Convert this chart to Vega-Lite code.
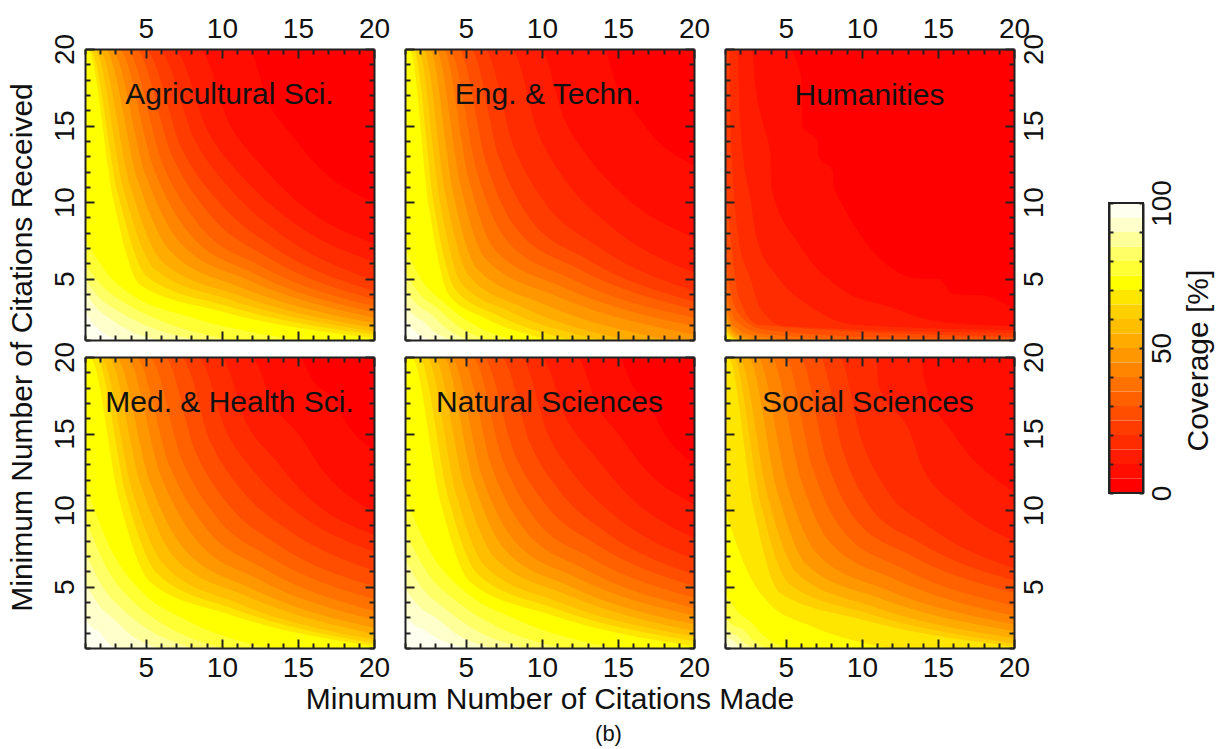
{"$schema":"https://vega.github.io/schema/vega-lite/v6.json","padding":{"left":7,"top":15,"right":5,"bottom":5},"background":"white",
"config":{"view":{"stroke":null},"range":{"ordinal":["#ff0000","#ff0e00","#ff1c00","#ff2c00","#ff3c00","#ff4e00","#ff6000","#ff7200","#ff8500","#ff9800","#ffab00","#ffbe00","#ffd000","#ffe600","#ffff00","#ffff33","#ffff66","#ffff99","#ffffcc","#fffff0"]},"axis":{"grid":false,"domainColor":"#222222","domainWidth":2,"tickColor":"#222222","tickWidth":2,"labelColor":"#111111","titleColor":"#111111","labelFont":"Liberation Sans","titleFont":"Liberation Sans","labelFontSize":28,"titleFontSize":30,"titleFontWeight":"normal","labelOverlap":false,"labelFlush":false,"labelPadding":15},"title":{"font":"Liberation Sans"}},
"datasets":{
"A":[{"l":0,"x":1,"y":20},{"l":0,"x":20,"y":20},
{"l":5,"x":1,"y":20},{"l":5,"x":11.7,"y":20},{"l":5,"x":13.1,"y":16.4},{"l":5,"x":14.5,"y":14.5},{"l":5,"x":16.4,"y":12.25},{"l":5,"x":20,"y":10},
{"l":10,"x":1,"y":20},{"l":10,"x":8.5,"y":20},{"l":10,"x":10.5,"y":15.1},{"l":10,"x":12.5,"y":12.5},{"l":10,"x":15.1,"y":9.9},{"l":10,"x":20,"y":7.3},
{"l":15,"x":1,"y":20},{"l":15,"x":6.8,"y":20},{"l":15,"x":9.15,"y":14.5},{"l":15,"x":11.5,"y":11.5},{"l":15,"x":14.5,"y":8.8},{"l":15,"x":20,"y":6.1},
{"l":20,"x":1,"y":20},{"l":20,"x":5.8,"y":20},{"l":20,"x":8.25,"y":14},{"l":20,"x":10.7,"y":10.7},{"l":20,"x":14,"y":7.8},{"l":20,"x":20,"y":4.9},
{"l":25,"x":1,"y":20},{"l":25,"x":4.9,"y":20},{"l":25,"x":7.4,"y":13.4},{"l":25,"x":9.9,"y":9.9},{"l":25,"x":13.4,"y":7.05},{"l":25,"x":20,"y":4.2},
{"l":30,"x":1,"y":20},{"l":30,"x":4.3,"y":20},{"l":30,"x":6.75,"y":13},{"l":30,"x":9.2,"y":9.2},{"l":30,"x":13,"y":6.4},{"l":30,"x":20,"y":3.65},
{"l":35,"x":1,"y":20},{"l":35,"x":3.7,"y":20},{"l":35,"x":6.1,"y":12.5},{"l":35,"x":8.5,"y":8.5},{"l":35,"x":12.5,"y":5.85},{"l":35,"x":20,"y":3.2},
{"l":40,"x":1,"y":20},{"l":40,"x":3.2,"y":20},{"l":40,"x":5.55,"y":12.1},{"l":40,"x":7.9,"y":7.9},{"l":40,"x":12.1,"y":5.35},{"l":40,"x":20,"y":2.8},
{"l":45,"x":1,"y":20},{"l":45,"x":2.7,"y":20},{"l":45,"x":5,"y":11.75},{"l":45,"x":7.3,"y":7.3},{"l":45,"x":11.75,"y":4.9},{"l":45,"x":20,"y":2.45},
{"l":50,"x":1,"y":20},{"l":50,"x":2.3,"y":20},{"l":50,"x":4.5,"y":11.35},{"l":50,"x":6.7,"y":6.7},{"l":50,"x":11.35,"y":4.4},{"l":50,"x":20,"y":2.1},
{"l":55,"x":1,"y":20},{"l":55,"x":1.9,"y":20},{"l":55,"x":4,"y":11},{"l":55,"x":6.1,"y":6.1},{"l":55,"x":11,"y":3.95},{"l":55,"x":20,"y":1.8},
{"l":60,"x":1,"y":20},{"l":60,"x":1.6,"y":20},{"l":60,"x":3.6,"y":10.6},{"l":60,"x":5.6,"y":5.6},{"l":60,"x":10.6,"y":3.6},{"l":60,"x":20,"y":1.55},
{"l":65,"x":1,"y":20},{"l":65,"x":1.3,"y":20},{"l":65,"x":3.2,"y":10.4},{"l":65,"x":5.1,"y":5.1},{"l":65,"x":10.4,"y":3.2},{"l":65,"x":20,"y":1.35},
{"l":70,"x":1,"y":20},{"l":70,"x":1.15,"y":20},{"l":70,"x":2.9,"y":10},{"l":70,"x":4.6,"y":4.6},{"l":70,"x":10,"y":2.85},{"l":70,"x":20,"y":1.1},
{"l":75,"x":1,"y":7.6},{"l":75,"x":2.5,"y":5.3},{"l":75,"x":4,"y":4},{"l":75,"x":7.9,"y":2.5},{"l":75,"x":15,"y":1},
{"l":80,"x":1,"y":6},{"l":80,"x":2.25,"y":4.4},{"l":80,"x":3.5,"y":3.5},{"l":80,"x":6,"y":2.25},{"l":80,"x":10.5,"y":1},
{"l":85,"x":1,"y":5},{"l":85,"x":2,"y":3.7},{"l":85,"x":3,"y":3},{"l":85,"x":4.9,"y":2},{"l":85,"x":8.4,"y":1},
{"l":90,"x":1,"y":4.2},{"l":90,"x":1.75,"y":3.1},{"l":90,"x":2.5,"y":2.5},{"l":90,"x":3.65,"y":1.75},{"l":90,"x":5.8,"y":1},
{"l":95,"x":1,"y":3},{"l":95,"x":1.4,"y":2.2},{"l":95,"x":1.8,"y":1.8},{"l":95,"x":2.3,"y":1.4},{"l":95,"x":3.3,"y":1}],
"B":[{"l":0,"x":1,"y":20},{"l":0,"x":20,"y":20},
{"l":5,"x":1,"y":20},{"l":5,"x":14,"y":20},{"l":5,"x":15,"y":17.4},{"l":5,"x":16,"y":16},{"l":5,"x":17.4,"y":14.2},{"l":5,"x":20,"y":12.4},
{"l":10,"x":1,"y":20},{"l":10,"x":9.9,"y":20},{"l":10,"x":11.45,"y":15.45},{"l":10,"x":13,"y":13},{"l":10,"x":15.45,"y":10.35},{"l":10,"x":20,"y":7.7},
{"l":15,"x":1,"y":20},{"l":15,"x":8,"y":20},{"l":15,"x":9.75,"y":14.5},{"l":15,"x":11.5,"y":11.5},{"l":15,"x":14.5,"y":8.45},{"l":15,"x":20,"y":5.4},
{"l":20,"x":1,"y":20},{"l":20,"x":6.2,"y":20},{"l":20,"x":8.15,"y":13.6},{"l":20,"x":10.1,"y":10.1},{"l":20,"x":13.6,"y":7.15},{"l":20,"x":20,"y":4.2},
{"l":25,"x":1,"y":20},{"l":25,"x":5.3,"y":20},{"l":25,"x":7.2,"y":12.9},{"l":25,"x":9.1,"y":9.1},{"l":25,"x":12.9,"y":6.3},{"l":25,"x":20,"y":3.5},
{"l":30,"x":1,"y":20},{"l":30,"x":4.5,"y":20},{"l":30,"x":6.4,"y":12.4},{"l":30,"x":8.3,"y":8.3},{"l":30,"x":12.4,"y":5.65},{"l":30,"x":20,"y":3},
{"l":35,"x":1,"y":20},{"l":35,"x":3.9,"y":20},{"l":35,"x":5.75,"y":11.9},{"l":35,"x":7.6,"y":7.6},{"l":35,"x":11.9,"y":5},{"l":35,"x":20,"y":2.45},
{"l":40,"x":1,"y":20},{"l":40,"x":3.5,"y":20},{"l":40,"x":5.2,"y":11.5},{"l":40,"x":6.9,"y":6.9},{"l":40,"x":11.5,"y":4.4},{"l":40,"x":20,"y":1.9},
{"l":45,"x":1,"y":20},{"l":45,"x":3,"y":20},{"l":45,"x":4.65,"y":11.1},{"l":45,"x":6.3,"y":6.3},{"l":45,"x":11.1,"y":3.8},{"l":45,"x":20,"y":1.35},
{"l":50,"x":1,"y":20},{"l":50,"x":2.6,"y":20},{"l":50,"x":4.15,"y":10.7},{"l":50,"x":5.7,"y":5.7},{"l":50,"x":10.1,"y":3.35},{"l":50,"x":18.3,"y":1},
{"l":55,"x":1,"y":20},{"l":55,"x":2.2,"y":20},{"l":55,"x":3.7,"y":10.3},{"l":55,"x":5.2,"y":5.2},{"l":55,"x":8.8,"y":3.1},{"l":55,"x":15.6,"y":1},
{"l":60,"x":1,"y":20},{"l":60,"x":1.85,"y":20},{"l":60,"x":3.3,"y":10},{"l":60,"x":4.7,"y":4.7},{"l":60,"x":7.9,"y":2.85},{"l":60,"x":13.9,"y":1},
{"l":65,"x":1,"y":20},{"l":65,"x":1.55,"y":20},{"l":65,"x":2.9,"y":9.8},{"l":65,"x":4.3,"y":4.3},{"l":65,"x":7,"y":2.65},{"l":65,"x":11.9,"y":1},
{"l":70,"x":1,"y":20},{"l":70,"x":1.3,"y":20},{"l":70,"x":2.6,"y":9.5},{"l":70,"x":3.9,"y":3.9},{"l":70,"x":6.2,"y":2.45},{"l":70,"x":10.4,"y":1},
{"l":75,"x":1,"y":7},{"l":75,"x":2.25,"y":4.7},{"l":75,"x":3.5,"y":3.5},{"l":75,"x":5.1,"y":2.25},{"l":75,"x":8,"y":1},
{"l":80,"x":1,"y":5.5},{"l":80,"x":2.05,"y":3.9},{"l":80,"x":3.1,"y":3.1},{"l":80,"x":4.3,"y":2.05},{"l":80,"x":6.4,"y":1},
{"l":85,"x":1,"y":4.3},{"l":85,"x":1.85,"y":3.25},{"l":85,"x":2.7,"y":2.7},{"l":85,"x":3.6,"y":1.85},{"l":85,"x":5.2,"y":1},
{"l":90,"x":1,"y":3.3},{"l":90,"x":1.6,"y":2.6},{"l":90,"x":2.2,"y":2.2},{"l":90,"x":2.85,"y":1.6},{"l":90,"x":4,"y":1},
{"l":95,"x":1,"y":2.4},{"l":95,"x":1.3,"y":1.9},{"l":95,"x":1.6,"y":1.6},{"l":95,"x":2,"y":1.3},{"l":95,"x":2.7,"y":1}],
"C":[{"l":0,"x":1,"y":20},{"l":0,"x":20,"y":20},
{"l":5,"x":1,"y":20},{"l":5,"x":5.2,"y":20},{"l":5,"x":6,"y":18.2},{"l":5,"x":6.1,"y":14.9},{"l":5,"x":7.1,"y":14},{"l":5,"x":7.15,"y":13},{"l":5,"x":8.1,"y":12},{"l":5,"x":8.15,"y":10.9},{"l":5,"x":13.9,"y":5},{"l":5,"x":15,"y":5},{"l":5,"x":16,"y":4},{"l":5,"x":18,"y":3.9},{"l":5,"x":20,"y":3},
{"l":10,"x":1,"y":20},{"l":10,"x":2.8,"y":20},{"l":10,"x":2.9,"y":18.6},{"l":10,"x":3.5,"y":15.1},{"l":10,"x":4,"y":13.1},{"l":10,"x":4.05,"y":10.9},{"l":10,"x":5.9,"y":7.2},{"l":10,"x":9,"y":4.1},{"l":10,"x":11.7,"y":3.2},{"l":10,"x":15,"y":2.2},{"l":10,"x":20,"y":1.9},
{"l":15,"x":1,"y":20},{"l":15,"x":1.8,"y":20},{"l":15,"x":2,"y":15.1},{"l":15,"x":2.7,"y":10},{"l":15,"x":3.1,"y":7.6},{"l":15,"x":4.55,"y":5},{"l":15,"x":6.6,"y":3.2},{"l":15,"x":9.5,"y":2},{"l":15,"x":20,"y":1.65},
{"l":20,"x":1,"y":20},{"l":20,"x":1.25,"y":20},{"l":20,"x":1.4,"y":14},{"l":20,"x":2,"y":7},{"l":20,"x":2.6,"y":5.2},{"l":20,"x":3.35,"y":3},{"l":20,"x":4.9,"y":1.9},{"l":20,"x":20,"y":1.45},
{"l":25,"x":1,"y":11.5},{"l":25,"x":1.5,"y":6.5},{"l":25,"x":1.9,"y":3.8},{"l":25,"x":3.2,"y":2},{"l":25,"x":20,"y":1.2},
{"l":30,"x":1,"y":6.5},{"l":30,"x":1.4,"y":4},{"l":30,"x":2,"y":2.6},{"l":30,"x":3.5,"y":1.7},{"l":30,"x":12,"y":1.15},{"l":30,"x":20,"y":1.1},
{"l":35,"x":1,"y":5},{"l":35,"x":1.3,"y":3.2},{"l":35,"x":1.8,"y":2.2},{"l":35,"x":3.5,"y":1.4},{"l":35,"x":10,"y":1},
{"l":40,"x":1,"y":4},{"l":40,"x":1.2,"y":2.8},{"l":40,"x":1.6,"y":1.9},{"l":40,"x":2.8,"y":1.3},{"l":40,"x":5.5,"y":1},
{"l":45,"x":1,"y":3.3},{"l":45,"x":1.15,"y":2.5},{"l":45,"x":1.5,"y":1.7},{"l":45,"x":2.3,"y":1.2},{"l":45,"x":3.5,"y":1},
{"l":50,"x":1,"y":2.8},{"l":50,"x":1.3,"y":1.8},{"l":50,"x":2,"y":1.15},{"l":50,"x":2.8,"y":1},
{"l":55,"x":1,"y":2.5},{"l":55,"x":1.25,"y":1.6},{"l":55,"x":1.7,"y":1.15},{"l":55,"x":2.3,"y":1},
{"l":60,"x":1,"y":2.2},{"l":60,"x":1.2,"y":1.5},{"l":60,"x":1.9,"y":1},
{"l":65,"x":1,"y":2},{"l":65,"x":1.15,"y":1.4},{"l":65,"x":1.7,"y":1},
{"l":70,"x":1,"y":1.7},{"l":70,"x":1.1,"y":1.3},{"l":70,"x":1.5,"y":1},
{"l":75,"x":1,"y":1.4},{"l":75,"x":1.25,"y":1},
{"l":80,"x":1,"y":1.25},{"l":80,"x":1.12,"y":1}],
"D":[{"l":0,"x":1,"y":20},{"l":0,"x":20,"y":20},
{"l":5,"x":1,"y":20},{"l":5,"x":15,"y":20},{"l":5,"x":16.15,"y":18.25},{"l":5,"x":17.3,"y":17.3},{"l":5,"x":18.25,"y":15.6},{"l":5,"x":20,"y":13.9},
{"l":10,"x":1,"y":20},{"l":10,"x":11.9,"y":20},{"l":10,"x":13.45,"y":16.75},{"l":10,"x":15,"y":15},{"l":10,"x":16.75,"y":12.45},{"l":10,"x":20,"y":9.9},
{"l":15,"x":1,"y":20},{"l":15,"x":9.9,"y":20},{"l":15,"x":11.65,"y":15.6},{"l":15,"x":13.4,"y":13.4},{"l":15,"x":15.6,"y":10.9},{"l":15,"x":20,"y":8.4},
{"l":20,"x":1,"y":20},{"l":20,"x":8.4,"y":20},{"l":20,"x":10.35,"y":15},{"l":20,"x":12.3,"y":12.3},{"l":20,"x":15,"y":9.8},{"l":20,"x":20,"y":7.3},
{"l":25,"x":1,"y":20},{"l":25,"x":7.3,"y":20},{"l":25,"x":9.3,"y":14.35},{"l":25,"x":11.3,"y":11.3},{"l":25,"x":14.35,"y":8.7},{"l":25,"x":20,"y":6.05},
{"l":30,"x":1,"y":20},{"l":30,"x":6.2,"y":20},{"l":30,"x":8.3,"y":13.75},{"l":30,"x":10.4,"y":10.4},{"l":30,"x":13.75,"y":7.7},{"l":30,"x":20,"y":5.05},
{"l":35,"x":1,"y":20},{"l":35,"x":5.2,"y":20},{"l":35,"x":7.4,"y":13.25},{"l":35,"x":9.6,"y":9.6},{"l":35,"x":13.25,"y":6.9},{"l":35,"x":20,"y":4.2},
{"l":40,"x":1,"y":20},{"l":40,"x":4.3,"y":20},{"l":40,"x":6.6,"y":12.8},{"l":40,"x":8.9,"y":8.9},{"l":40,"x":12.8,"y":6.15},{"l":40,"x":20,"y":3.4},
{"l":45,"x":1,"y":20},{"l":45,"x":3.7,"y":20},{"l":45,"x":5.95,"y":12.35},{"l":45,"x":8.2,"y":8.2},{"l":45,"x":12.35,"y":5.5},{"l":45,"x":20,"y":2.85},
{"l":50,"x":1,"y":20},{"l":50,"x":3,"y":20},{"l":50,"x":5.25,"y":11.9},{"l":50,"x":7.5,"y":7.5},{"l":50,"x":11.9,"y":4.9},{"l":50,"x":20,"y":2.3},
{"l":55,"x":1,"y":20},{"l":55,"x":2.5,"y":20},{"l":55,"x":4.7,"y":11.6},{"l":55,"x":6.9,"y":6.9},{"l":55,"x":11.6,"y":4.4},{"l":55,"x":20,"y":1.9},
{"l":60,"x":1,"y":20},{"l":60,"x":2,"y":20},{"l":60,"x":4.15,"y":11.1},{"l":60,"x":6.3,"y":6.3},{"l":60,"x":11.1,"y":3.9},{"l":60,"x":20,"y":1.55},
{"l":65,"x":1,"y":20},{"l":65,"x":1.7,"y":20},{"l":65,"x":3.75,"y":10.8},{"l":65,"x":5.8,"y":5.8},{"l":65,"x":10.8,"y":3.55},{"l":65,"x":20,"y":1.3},
{"l":70,"x":1,"y":20},{"l":70,"x":1.3,"y":20},{"l":70,"x":3.3,"y":10.45},{"l":70,"x":5.3,"y":5.3},{"l":70,"x":10.45,"y":3.2},{"l":70,"x":20,"y":1.1},
{"l":75,"x":1,"y":11.7},{"l":75,"x":2.85,"y":7.15},{"l":75,"x":4.7,"y":4.7},{"l":75,"x":7.6,"y":2.85},{"l":75,"x":13,"y":1},
{"l":80,"x":1,"y":9.5},{"l":80,"x":2.55,"y":6},{"l":80,"x":4.1,"y":4.1},{"l":80,"x":6.15,"y":2.55},{"l":80,"x":10,"y":1},
{"l":85,"x":1,"y":7.3},{"l":85,"x":2.25,"y":4.85},{"l":85,"x":3.5,"y":3.5},{"l":85,"x":5.1,"y":2.25},{"l":85,"x":8,"y":1},
{"l":90,"x":1,"y":5.3},{"l":90,"x":1.95,"y":3.75},{"l":90,"x":2.9,"y":2.9},{"l":90,"x":3.9,"y":1.95},{"l":90,"x":5.8,"y":1},
{"l":95,"x":1,"y":2.9},{"l":95,"x":1.5,"y":2.3},{"l":95,"x":2,"y":2},{"l":95,"x":2.35,"y":1.5},{"l":95,"x":3,"y":1}],
"E":[{"l":0,"x":1,"y":20},{"l":0,"x":20,"y":20},
{"l":5,"x":1,"y":20},{"l":5,"x":15,"y":20},{"l":5,"x":16,"y":18.05},{"l":5,"x":17,"y":17},{"l":5,"x":18.05,"y":15},{"l":5,"x":20,"y":13},
{"l":10,"x":1,"y":20},{"l":10,"x":12.3,"y":20},{"l":10,"x":13.65,"y":16.75},{"l":10,"x":15,"y":15},{"l":10,"x":16.75,"y":12.7},{"l":10,"x":20,"y":10.4},
{"l":15,"x":1,"y":20},{"l":15,"x":9.9,"y":20},{"l":15,"x":11.7,"y":15.8},{"l":15,"x":13.5,"y":13.5},{"l":15,"x":15.8,"y":10.85},{"l":15,"x":20,"y":8.2},
{"l":20,"x":1,"y":20},{"l":20,"x":8.6,"y":20},{"l":20,"x":10.4,"y":14.95},{"l":20,"x":12.2,"y":12.2},{"l":20,"x":14.95,"y":9.5},{"l":20,"x":20,"y":6.8},
{"l":25,"x":1,"y":20},{"l":25,"x":7.3,"y":20},{"l":25,"x":9.25,"y":14.3},{"l":25,"x":11.2,"y":11.2},{"l":25,"x":14.3,"y":8.5},{"l":25,"x":20,"y":5.8},
{"l":30,"x":1,"y":20},{"l":30,"x":6.1,"y":20},{"l":30,"x":8.2,"y":13.7},{"l":30,"x":10.3,"y":10.3},{"l":30,"x":13.7,"y":7.7},{"l":30,"x":20,"y":5.05},
{"l":35,"x":1,"y":20},{"l":35,"x":5.4,"y":20},{"l":35,"x":7.45,"y":13.2},{"l":35,"x":9.5,"y":9.5},{"l":35,"x":13.2,"y":6.9},{"l":35,"x":20,"y":4.3},
{"l":40,"x":1,"y":20},{"l":40,"x":4.7,"y":20},{"l":40,"x":6.75,"y":12.7},{"l":40,"x":8.8,"y":8.8},{"l":40,"x":12.7,"y":6.2},{"l":40,"x":20,"y":3.6},
{"l":45,"x":1,"y":20},{"l":45,"x":4,"y":20},{"l":45,"x":6.05,"y":12.25},{"l":45,"x":8.1,"y":8.1},{"l":45,"x":12.25,"y":5.6},{"l":45,"x":20,"y":3.1},
{"l":50,"x":1,"y":20},{"l":50,"x":3.5,"y":20},{"l":50,"x":5.5,"y":11.9},{"l":50,"x":7.5,"y":7.5},{"l":50,"x":11.9,"y":5},{"l":50,"x":20,"y":2.55},
{"l":55,"x":1,"y":20},{"l":55,"x":2.9,"y":20},{"l":55,"x":4.9,"y":11.6},{"l":55,"x":6.9,"y":6.9},{"l":55,"x":11.6,"y":4.5},{"l":55,"x":20,"y":2.1},
{"l":60,"x":1,"y":20},{"l":60,"x":2.4,"y":20},{"l":60,"x":4.35,"y":11.1},{"l":60,"x":6.3,"y":6.3},{"l":60,"x":11.1,"y":4},{"l":60,"x":20,"y":1.75},
{"l":65,"x":1,"y":20},{"l":65,"x":1.9,"y":20},{"l":65,"x":3.85,"y":10.8},{"l":65,"x":5.8,"y":5.8},{"l":65,"x":10.8,"y":3.6},{"l":65,"x":20,"y":1.45},
{"l":70,"x":1,"y":20},{"l":70,"x":1.4,"y":20},{"l":70,"x":3.35,"y":10.45},{"l":70,"x":5.3,"y":5.3},{"l":70,"x":10.45,"y":3.2},{"l":70,"x":20,"y":1.1},
{"l":75,"x":1,"y":10.8},{"l":75,"x":2.9,"y":6.9},{"l":75,"x":4.8,"y":4.8},{"l":75,"x":8.25,"y":2.9},{"l":75,"x":14.7,"y":1},
{"l":80,"x":1,"y":8.6},{"l":80,"x":2.6,"y":5.75},{"l":80,"x":4.2,"y":4.2},{"l":80,"x":6.65,"y":2.6},{"l":80,"x":11.2,"y":1},
{"l":85,"x":1,"y":6.8},{"l":85,"x":2.3,"y":4.7},{"l":85,"x":3.6,"y":3.6},{"l":85,"x":5.4,"y":2.3},{"l":85,"x":8.8,"y":1},
{"l":90,"x":1,"y":4.85},{"l":90,"x":2,"y":3.65},{"l":90,"x":3,"y":3},{"l":90,"x":4.25,"y":2},{"l":90,"x":6.6,"y":1},
{"l":95,"x":1,"y":3.1},{"l":95,"x":1.6,"y":2.5},{"l":95,"x":2.2,"y":2.2},{"l":95,"x":3.15,"y":1.6},{"l":95,"x":4.9,"y":1}],
"F":[{"l":0,"x":1,"y":20},{"l":0,"x":20,"y":20},
{"l":5,"x":1,"y":20},{"l":5,"x":19.6,"y":20},{"l":5,"x":20,"y":19.4},
{"l":10,"x":1,"y":20},{"l":10,"x":13.9,"y":20},{"l":10,"x":14.1,"y":18.5},{"l":10,"x":16,"y":15},{"l":10,"x":20,"y":11.2},
{"l":15,"x":1,"y":20},{"l":15,"x":11,"y":20},{"l":15,"x":11.05,"y":18.3},{"l":15,"x":13.2,"y":15},{"l":15,"x":13.9,"y":13},{"l":15,"x":16.5,"y":10.1},{"l":15,"x":20,"y":8},
{"l":20,"x":1,"y":20},{"l":20,"x":8.5,"y":20},{"l":20,"x":10,"y":14.5},{"l":20,"x":11.5,"y":11.5},{"l":20,"x":14.5,"y":8.85},{"l":20,"x":20,"y":6.2},
{"l":25,"x":1,"y":20},{"l":25,"x":7.2,"y":20},{"l":25,"x":8.8,"y":13.75},{"l":25,"x":10.4,"y":10.4},{"l":25,"x":13.75,"y":7.9},{"l":25,"x":20,"y":5.4},
{"l":30,"x":1,"y":20},{"l":30,"x":5.9,"y":20},{"l":30,"x":7.7,"y":13.2},{"l":30,"x":9.5,"y":9.5},{"l":30,"x":13.2,"y":7.05},{"l":30,"x":20,"y":4.6},
{"l":35,"x":1,"y":20},{"l":35,"x":4.9,"y":20},{"l":35,"x":6.8,"y":12.65},{"l":35,"x":8.7,"y":8.7},{"l":35,"x":12.65,"y":6.2},{"l":35,"x":20,"y":3.75},
{"l":40,"x":1,"y":20},{"l":40,"x":4,"y":20},{"l":40,"x":5.95,"y":12.15},{"l":40,"x":7.9,"y":7.9},{"l":40,"x":12.15,"y":5.5},{"l":40,"x":20,"y":3.1},
{"l":45,"x":1,"y":20},{"l":45,"x":3.1,"y":20},{"l":45,"x":5.1,"y":11.6},{"l":45,"x":7.1,"y":7.1},{"l":45,"x":11.6,"y":4.8},{"l":45,"x":20,"y":2.55},
{"l":50,"x":1,"y":20},{"l":50,"x":2.5,"y":20},{"l":50,"x":4.45,"y":11.15},{"l":50,"x":6.4,"y":6.4},{"l":50,"x":11.15,"y":4.25},{"l":50,"x":20,"y":2.1},
{"l":55,"x":1,"y":20},{"l":55,"x":1.9,"y":20},{"l":55,"x":3.85,"y":10.75},{"l":55,"x":5.8,"y":5.8},{"l":55,"x":10.75,"y":3.7},{"l":55,"x":20,"y":1.65},
{"l":60,"x":1,"y":20},{"l":60,"x":1.5,"y":20},{"l":60,"x":3.35,"y":10.4},{"l":60,"x":5.2,"y":5.2},{"l":60,"x":10.4,"y":3.25},{"l":60,"x":20,"y":1.3},
{"l":65,"x":1,"y":20},{"l":65,"x":1.2,"y":20},{"l":65,"x":2.9,"y":10},{"l":65,"x":4.6,"y":4.6},{"l":65,"x":10,"y":2.85},{"l":65,"x":20,"y":1.1},
{"l":70,"x":1,"y":10.1},{"l":70,"x":2.45,"y":6.05},{"l":70,"x":3.9,"y":3.9},{"l":70,"x":6.6,"y":2.45},{"l":70,"x":11.7,"y":1},
{"l":75,"x":1,"y":4.6},{"l":75,"x":1.85,"y":3.35},{"l":75,"x":2.7,"y":2.7},{"l":75,"x":3.5,"y":1.85},{"l":75,"x":5,"y":1},
{"l":80,"x":1,"y":3},{"l":80,"x":1.6,"y":2.45},{"l":80,"x":2.2,"y":2.2},{"l":80,"x":2.75,"y":1.6},{"l":80,"x":3.8,"y":1},
{"l":85,"x":1,"y":2.4},{"l":85,"x":1.4,"y":2},{"l":85,"x":1.8,"y":1.8},{"l":85,"x":2.2,"y":1.4},{"l":85,"x":2.9,"y":1},
{"l":90,"x":1,"y":1.9},{"l":90,"x":1.25,"y":1.65},{"l":90,"x":1.5,"y":1.5},{"l":90,"x":1.75,"y":1.25},{"l":90,"x":2.2,"y":1},
{"l":95,"x":1,"y":1.5},{"l":95,"x":1.2,"y":1.2},{"l":95,"x":1.6,"y":1}],
"bar":[{"l":0,"h":5,"a":0,"b":1},{"l":5,"h":10,"a":0,"b":1},{"l":10,"h":15,"a":0,"b":1},{"l":15,"h":20,"a":0,"b":1},{"l":20,"h":25,"a":0,"b":1},{"l":25,"h":30,"a":0,"b":1},{"l":30,"h":35,"a":0,"b":1},{"l":35,"h":40,"a":0,"b":1},{"l":40,"h":45,"a":0,"b":1},{"l":45,"h":50,"a":0,"b":1},{"l":50,"h":55,"a":0,"b":1},{"l":55,"h":60,"a":0,"b":1},{"l":60,"h":65,"a":0,"b":1},{"l":65,"h":70,"a":0,"b":1},{"l":70,"h":75,"a":0,"b":1},{"l":75,"h":80,"a":0,"b":1},{"l":80,"h":85,"a":0,"b":1},{"l":85,"h":90,"a":0,"b":1},{"l":90,"h":95,"a":0,"b":1},{"l":95,"h":100,"a":0,"b":1}],
"o":[{"x":1,"y":1}]},
"columns":4,"align":"each","spacing":{"row":17,"column":31},"bounds":"flush","concat":[
{"width":289,"height":291,"resolve":{"axis":{"x":"independent","y":"independent"}},"layer":[
{"data":{"name":"A"},"mark":{"type":"area","interpolate":"monotone","clip":true},"encoding":{"x":{"field":"x","type":"quantitative","scale":{"domain":[1,20],"nice":false,"zero":false},"axis":{"zindex":1,"orient":"bottom","title":null,"labels":false,"values":[5,10,15,20],"tickSize":-9}},"y":{"field":"y","type":"quantitative","stack":null,"scale":{"domain":[1,20],"nice":false,"zero":false},"axis":{"zindex":1,"orient":"left","title":"Minimum Number of Citations Received","titleX":-63,"titleY":298,"titleAlign":"center","titleBaseline":"middle","labelAngle":-90,"labelAlign":"center","labelBaseline":"bottom","values":[5,10,15,20],"tickSize":-9}},"y2":{"datum":1},"color":{"field":"l","type":"ordinal","legend":null}}},
{"data":{"values":[{"t":"Agricultural Sci.","x":10.5,"y":17}]},"mark":{"type":"text","font":"Liberation Sans","fontSize":30,"color":"#111111"},"encoding":{"text":{"field":"t"},"x":{"field":"x","type":"quantitative","scale":{"domain":[1,20],"nice":false,"zero":false},"axis":{"zindex":1,"orient":"top","title":null,"values":[5,10,15,20],"tickSize":-9}},"y":{"field":"y","type":"quantitative","scale":{"domain":[1,20],"nice":false,"zero":false},"axis":{"zindex":1,"orient":"right","title":null,"labels":false,"values":[5,10,15,20],"tickSize":-9}}}},
{"data":{"name":"o"},"mark":{"type":"point","opacity":0},"encoding":{"x":{"field":"x","type":"quantitative","scale":{"domain":[1,20],"nice":false,"zero":false},"axis":{"zindex":1,"orient":"bottom","title":null,"labels":false,"domain":false,"values":[1,2,3,4,6,7,8,9,11,12,13,14,16,17,18,19],"tickSize":-5}},"y":{"field":"y","type":"quantitative","scale":{"domain":[1,20],"nice":false,"zero":false},"axis":{"zindex":1,"orient":"left","title":null,"labels":false,"domain":false,"values":[1,2,3,4,6,7,8,9,11,12,13,14,16,17,18,19],"tickSize":-5}}}},
{"data":{"name":"o"},"mark":{"type":"point","opacity":0},"encoding":{"x":{"field":"x","type":"quantitative","scale":{"domain":[1,20],"nice":false,"zero":false},"axis":{"zindex":1,"orient":"top","title":null,"labels":false,"domain":false,"values":[1,2,3,4,6,7,8,9,11,12,13,14,16,17,18,19],"tickSize":-5}},"y":{"field":"y","type":"quantitative","scale":{"domain":[1,20],"nice":false,"zero":false},"axis":{"zindex":1,"orient":"right","title":null,"labels":false,"domain":false,"values":[1,2,3,4,6,7,8,9,11,12,13,14,16,17,18,19],"tickSize":-5}}}}]},
{"width":289,"height":291,"resolve":{"axis":{"x":"independent","y":"independent"}},"layer":[
{"data":{"name":"B"},"mark":{"type":"area","interpolate":"monotone","clip":true},"encoding":{"x":{"field":"x","type":"quantitative","scale":{"domain":[1,20],"nice":false,"zero":false},"axis":{"zindex":1,"orient":"bottom","title":null,"labels":false,"values":[5,10,15,20],"tickSize":-9}},"y":{"field":"y","type":"quantitative","stack":null,"scale":{"domain":[1,20],"nice":false,"zero":false},"axis":{"zindex":1,"orient":"left","title":null,"labels":false,"values":[5,10,15,20],"tickSize":-9}},"y2":{"datum":1},"color":{"field":"l","type":"ordinal","legend":null}}},
{"data":{"values":[{"t":"Eng. & Techn.","x":10.4,"y":17}]},"mark":{"type":"text","font":"Liberation Sans","fontSize":30,"color":"#111111"},"encoding":{"text":{"field":"t"},"x":{"field":"x","type":"quantitative","scale":{"domain":[1,20],"nice":false,"zero":false},"axis":{"zindex":1,"orient":"top","title":null,"values":[5,10,15,20],"tickSize":-9}},"y":{"field":"y","type":"quantitative","scale":{"domain":[1,20],"nice":false,"zero":false},"axis":{"zindex":1,"orient":"right","title":null,"labels":false,"values":[5,10,15,20],"tickSize":-9}}}},
{"data":{"name":"o"},"mark":{"type":"point","opacity":0},"encoding":{"x":{"field":"x","type":"quantitative","scale":{"domain":[1,20],"nice":false,"zero":false},"axis":{"zindex":1,"orient":"bottom","title":null,"labels":false,"domain":false,"values":[1,2,3,4,6,7,8,9,11,12,13,14,16,17,18,19],"tickSize":-5}},"y":{"field":"y","type":"quantitative","scale":{"domain":[1,20],"nice":false,"zero":false},"axis":{"zindex":1,"orient":"left","title":null,"labels":false,"domain":false,"values":[1,2,3,4,6,7,8,9,11,12,13,14,16,17,18,19],"tickSize":-5}}}},
{"data":{"name":"o"},"mark":{"type":"point","opacity":0},"encoding":{"x":{"field":"x","type":"quantitative","scale":{"domain":[1,20],"nice":false,"zero":false},"axis":{"zindex":1,"orient":"top","title":null,"labels":false,"domain":false,"values":[1,2,3,4,6,7,8,9,11,12,13,14,16,17,18,19],"tickSize":-5}},"y":{"field":"y","type":"quantitative","scale":{"domain":[1,20],"nice":false,"zero":false},"axis":{"zindex":1,"orient":"right","title":null,"labels":false,"domain":false,"values":[1,2,3,4,6,7,8,9,11,12,13,14,16,17,18,19],"tickSize":-5}}}}]},
{"width":289,"height":291,"resolve":{"axis":{"x":"independent","y":"independent"}},"layer":[
{"data":{"name":"C"},"mark":{"type":"area","interpolate":"monotone","clip":true},"encoding":{"x":{"field":"x","type":"quantitative","scale":{"domain":[1,20],"nice":false,"zero":false},"axis":{"zindex":1,"orient":"bottom","title":null,"labels":false,"values":[5,10,15,20],"tickSize":-9}},"y":{"field":"y","type":"quantitative","stack":null,"scale":{"domain":[1,20],"nice":false,"zero":false},"axis":{"zindex":1,"orient":"left","title":null,"labels":false,"values":[5,10,15,20],"tickSize":-9}},"y2":{"datum":1},"color":{"field":"l","type":"ordinal","legend":null}}},
{"data":{"values":[{"t":"Humanities","x":10.5,"y":16.9}]},"mark":{"type":"text","font":"Liberation Sans","fontSize":30,"color":"#111111"},"encoding":{"text":{"field":"t"},"x":{"field":"x","type":"quantitative","scale":{"domain":[1,20],"nice":false,"zero":false},"axis":{"zindex":1,"orient":"top","title":null,"values":[5,10,15,20],"tickSize":-9}},"y":{"field":"y","type":"quantitative","scale":{"domain":[1,20],"nice":false,"zero":false},"axis":{"zindex":1,"orient":"right","title":null,"labelAngle":-90,"labelAlign":"center","labelBaseline":"top","values":[5,10,15,20],"tickSize":-9}}}},
{"data":{"name":"o"},"mark":{"type":"point","opacity":0},"encoding":{"x":{"field":"x","type":"quantitative","scale":{"domain":[1,20],"nice":false,"zero":false},"axis":{"zindex":1,"orient":"bottom","title":null,"labels":false,"domain":false,"values":[1,2,3,4,6,7,8,9,11,12,13,14,16,17,18,19],"tickSize":-5}},"y":{"field":"y","type":"quantitative","scale":{"domain":[1,20],"nice":false,"zero":false},"axis":{"zindex":1,"orient":"left","title":null,"labels":false,"domain":false,"values":[1,2,3,4,6,7,8,9,11,12,13,14,16,17,18,19],"tickSize":-5}}}},
{"data":{"name":"o"},"mark":{"type":"point","opacity":0},"encoding":{"x":{"field":"x","type":"quantitative","scale":{"domain":[1,20],"nice":false,"zero":false},"axis":{"zindex":1,"orient":"top","title":null,"labels":false,"domain":false,"values":[1,2,3,4,6,7,8,9,11,12,13,14,16,17,18,19],"tickSize":-5}},"y":{"field":"y","type":"quantitative","scale":{"domain":[1,20],"nice":false,"zero":false},"axis":{"zindex":1,"orient":"right","title":null,"labels":false,"domain":false,"values":[1,2,3,4,6,7,8,9,11,12,13,14,16,17,18,19],"tickSize":-5}}}}]},
{"width":130,"height":291,"resolve":{"axis":{"y":"independent"}},"layer":[
{"data":{"name":"bar"},"mark":"rect","encoding":{"x":{"field":"a","type":"quantitative","scale":{"domain":[0,1],"range":[64,98]},"axis":null},"x2":{"field":"b"},"y":{"field":"l","type":"quantitative","scale":{"domain":[0,100],"nice":false,"range":[444,154]},"axis":{"zindex":1,"orient":"left","offset":-64,"title":null,"labels":false,"values":[0,10,20,30,40,50,60,70,80,90,100],"tickSize":-4}},"y2":{"field":"h"},"color":{"field":"l","type":"ordinal","legend":null}}},
{"data":{"values":[{"l":0,"h":100,"a":0,"b":1}]},"mark":{"type":"rect","filled":false,"stroke":"#222222","strokeWidth":2},"encoding":{"x":{"field":"a","type":"quantitative","scale":{"domain":[0,1],"range":[64,98]},"axis":null},"x2":{"field":"b"},"y":{"field":"l","type":"quantitative","scale":{"domain":[0,100],"nice":false,"range":[444,154]},"axis":{"zindex":1,"orient":"right","offset":-32,"labelPadding":9,"title":"Coverage [%]","titleX":55,"titleY":311,"titleBaseline":"middle","titleAlign":"center","titleAngle":-90,"labelAngle":-90,"labelAlign":"center","labelBaseline":"top","labelExpr":"datum.value%50==0?datum.label:''","values":[0,10,20,30,40,50,60,70,80,90,100],"tickSize":-4}},"y2":{"field":"h"}}}]},
{"width":289,"height":291,"resolve":{"axis":{"x":"independent","y":"independent"}},"layer":[
{"data":{"name":"D"},"mark":{"type":"area","interpolate":"monotone","clip":true},"encoding":{"x":{"field":"x","type":"quantitative","scale":{"domain":[1,20],"nice":false,"zero":false},"axis":{"zindex":1,"orient":"bottom","title":null,"values":[5,10,15,20],"tickSize":-9}},"y":{"field":"y","type":"quantitative","stack":null,"scale":{"domain":[1,20],"nice":false,"zero":false},"axis":{"zindex":1,"orient":"left","title":null,"labelAngle":-90,"labelAlign":"center","labelBaseline":"bottom","values":[5,10,15,20],"tickSize":-9}},"y2":{"datum":1},"color":{"field":"l","type":"ordinal","legend":null}}},
{"data":{"values":[{"t":"Med. & Health Sci.","x":10.5,"y":17}]},"mark":{"type":"text","font":"Liberation Sans","fontSize":30,"color":"#111111"},"encoding":{"text":{"field":"t"},"x":{"field":"x","type":"quantitative","scale":{"domain":[1,20],"nice":false,"zero":false},"axis":{"zindex":1,"orient":"top","title":null,"labels":false,"values":[5,10,15,20],"tickSize":-9}},"y":{"field":"y","type":"quantitative","scale":{"domain":[1,20],"nice":false,"zero":false},"axis":{"zindex":1,"orient":"right","title":null,"labels":false,"values":[5,10,15,20],"tickSize":-9}}}},
{"data":{"name":"o"},"mark":{"type":"point","opacity":0},"encoding":{"x":{"field":"x","type":"quantitative","scale":{"domain":[1,20],"nice":false,"zero":false},"axis":{"zindex":1,"orient":"bottom","title":null,"labels":false,"domain":false,"values":[1,2,3,4,6,7,8,9,11,12,13,14,16,17,18,19],"tickSize":-5}},"y":{"field":"y","type":"quantitative","scale":{"domain":[1,20],"nice":false,"zero":false},"axis":{"zindex":1,"orient":"left","title":null,"labels":false,"domain":false,"values":[1,2,3,4,6,7,8,9,11,12,13,14,16,17,18,19],"tickSize":-5}}}},
{"data":{"name":"o"},"mark":{"type":"point","opacity":0},"encoding":{"x":{"field":"x","type":"quantitative","scale":{"domain":[1,20],"nice":false,"zero":false},"axis":{"zindex":1,"orient":"top","title":null,"labels":false,"domain":false,"values":[1,2,3,4,6,7,8,9,11,12,13,14,16,17,18,19],"tickSize":-5}},"y":{"field":"y","type":"quantitative","scale":{"domain":[1,20],"nice":false,"zero":false},"axis":{"zindex":1,"orient":"right","title":null,"labels":false,"domain":false,"values":[1,2,3,4,6,7,8,9,11,12,13,14,16,17,18,19],"tickSize":-5}}}}]},
{"width":289,"height":291,"title":{"text":"(b)","orient":"bottom","anchor":"middle","dx":59,"offset":10,"fontSize":22,"fontWeight":"normal","color":"#111111"},"resolve":{"axis":{"x":"independent","y":"independent"}},"layer":[
{"data":{"name":"E"},"mark":{"type":"area","interpolate":"monotone","clip":true},"encoding":{"x":{"field":"x","type":"quantitative","scale":{"domain":[1,20],"nice":false,"zero":false},"axis":{"zindex":1,"orient":"bottom","title":"Minumum Number of Citations Made","titleY":51,"titleBaseline":"middle","values":[5,10,15,20],"tickSize":-9}},"y":{"field":"y","type":"quantitative","stack":null,"scale":{"domain":[1,20],"nice":false,"zero":false},"axis":{"zindex":1,"orient":"left","title":null,"labels":false,"values":[5,10,15,20],"tickSize":-9}},"y2":{"datum":1},"color":{"field":"l","type":"ordinal","legend":null}}},
{"data":{"values":[{"t":"Natural Sciences","x":10.5,"y":17}]},"mark":{"type":"text","font":"Liberation Sans","fontSize":30,"color":"#111111"},"encoding":{"text":{"field":"t"},"x":{"field":"x","type":"quantitative","scale":{"domain":[1,20],"nice":false,"zero":false},"axis":{"zindex":1,"orient":"top","title":null,"labels":false,"values":[5,10,15,20],"tickSize":-9}},"y":{"field":"y","type":"quantitative","scale":{"domain":[1,20],"nice":false,"zero":false},"axis":{"zindex":1,"orient":"right","title":null,"labels":false,"values":[5,10,15,20],"tickSize":-9}}}},
{"data":{"name":"o"},"mark":{"type":"point","opacity":0},"encoding":{"x":{"field":"x","type":"quantitative","scale":{"domain":[1,20],"nice":false,"zero":false},"axis":{"zindex":1,"orient":"bottom","title":null,"labels":false,"domain":false,"values":[1,2,3,4,6,7,8,9,11,12,13,14,16,17,18,19],"tickSize":-5}},"y":{"field":"y","type":"quantitative","scale":{"domain":[1,20],"nice":false,"zero":false},"axis":{"zindex":1,"orient":"left","title":null,"labels":false,"domain":false,"values":[1,2,3,4,6,7,8,9,11,12,13,14,16,17,18,19],"tickSize":-5}}}},
{"data":{"name":"o"},"mark":{"type":"point","opacity":0},"encoding":{"x":{"field":"x","type":"quantitative","scale":{"domain":[1,20],"nice":false,"zero":false},"axis":{"zindex":1,"orient":"top","title":null,"labels":false,"domain":false,"values":[1,2,3,4,6,7,8,9,11,12,13,14,16,17,18,19],"tickSize":-5}},"y":{"field":"y","type":"quantitative","scale":{"domain":[1,20],"nice":false,"zero":false},"axis":{"zindex":1,"orient":"right","title":null,"labels":false,"domain":false,"values":[1,2,3,4,6,7,8,9,11,12,13,14,16,17,18,19],"tickSize":-5}}}}]},
{"width":289,"height":291,"resolve":{"axis":{"x":"independent","y":"independent"}},"layer":[
{"data":{"name":"F"},"mark":{"type":"area","interpolate":"monotone","clip":true},"encoding":{"x":{"field":"x","type":"quantitative","scale":{"domain":[1,20],"nice":false,"zero":false},"axis":{"zindex":1,"orient":"bottom","title":null,"values":[5,10,15,20],"tickSize":-9}},"y":{"field":"y","type":"quantitative","stack":null,"scale":{"domain":[1,20],"nice":false,"zero":false},"axis":{"zindex":1,"orient":"left","title":null,"labels":false,"values":[5,10,15,20],"tickSize":-9}},"y2":{"datum":1},"color":{"field":"l","type":"ordinal","legend":null}}},
{"data":{"values":[{"t":"Social Sciences","x":10.4,"y":17}]},"mark":{"type":"text","font":"Liberation Sans","fontSize":30,"color":"#111111"},"encoding":{"text":{"field":"t"},"x":{"field":"x","type":"quantitative","scale":{"domain":[1,20],"nice":false,"zero":false},"axis":{"zindex":1,"orient":"top","title":null,"labels":false,"values":[5,10,15,20],"tickSize":-9}},"y":{"field":"y","type":"quantitative","scale":{"domain":[1,20],"nice":false,"zero":false},"axis":{"zindex":1,"orient":"right","title":null,"labelAngle":-90,"labelAlign":"center","labelBaseline":"top","values":[5,10,15,20],"tickSize":-9}}}},
{"data":{"name":"o"},"mark":{"type":"point","opacity":0},"encoding":{"x":{"field":"x","type":"quantitative","scale":{"domain":[1,20],"nice":false,"zero":false},"axis":{"zindex":1,"orient":"bottom","title":null,"labels":false,"domain":false,"values":[1,2,3,4,6,7,8,9,11,12,13,14,16,17,18,19],"tickSize":-5}},"y":{"field":"y","type":"quantitative","scale":{"domain":[1,20],"nice":false,"zero":false},"axis":{"zindex":1,"orient":"left","title":null,"labels":false,"domain":false,"values":[1,2,3,4,6,7,8,9,11,12,13,14,16,17,18,19],"tickSize":-5}}}},
{"data":{"name":"o"},"mark":{"type":"point","opacity":0},"encoding":{"x":{"field":"x","type":"quantitative","scale":{"domain":[1,20],"nice":false,"zero":false},"axis":{"zindex":1,"orient":"top","title":null,"labels":false,"domain":false,"values":[1,2,3,4,6,7,8,9,11,12,13,14,16,17,18,19],"tickSize":-5}},"y":{"field":"y","type":"quantitative","scale":{"domain":[1,20],"nice":false,"zero":false},"axis":{"zindex":1,"orient":"right","title":null,"labels":false,"domain":false,"values":[1,2,3,4,6,7,8,9,11,12,13,14,16,17,18,19],"tickSize":-5}}}}]}
]}
